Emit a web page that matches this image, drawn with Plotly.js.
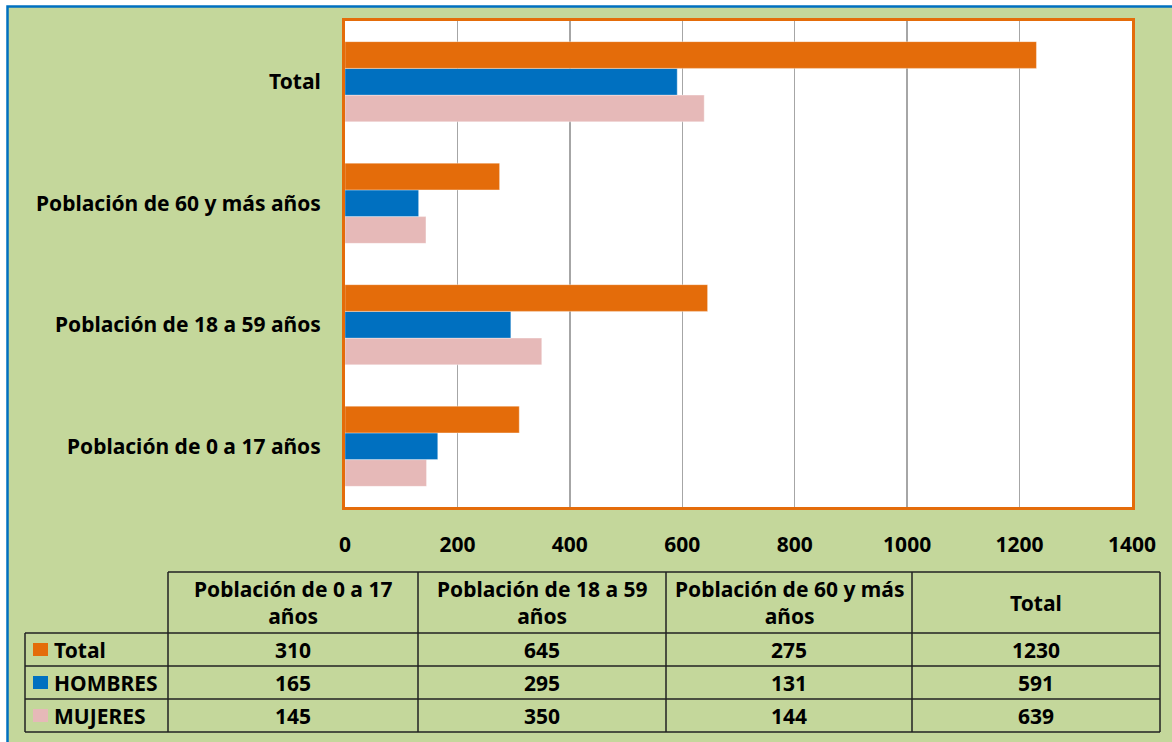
<!DOCTYPE html>
<html>
<head>
<meta charset="utf-8">
<script src="https://cdn.plot.ly/plotly-3.0.1.min.js"></script>
<style>html,body{margin:0;padding:0;background:#fff;}#chart{width:1172px;height:742px;}</style>
</head>
<body>
<div id="chart"></div>
<script>
// ---- data ----
const categories = ['Población de 0 a 17 años', 'Población de 18 a 59 años', 'Población de 60 y más años', 'Total'];
const headerLabels = ['Población de 0 a 17<br>años', 'Población de 18 a 59<br>años', 'Población de 60 y más<br>años', 'Total'];
const seriesNames = ['Total', 'HOMBRES', 'MUJERES'];
const totalVals = [310, 645, 275, 1230];
const hombresVals = [165, 295, 131, 591];
const mujeresVals = [145, 350, 144, 639];
const xTickVals = [0, 200, 400, 600, 800, 1000, 1200, 1400];

// ---- styling ----
const colors = {Total: '#E46C0A', HOMBRES: '#0070C0', MUJERES: '#E6B9B8'};
const GREEN = '#C4D79B';
const FONT = 'Noto Sans, Open Sans, Liberation Sans, sans-serif';
const FS = 21;
const W = 1172, H = 742;
const M = {l: 345, r: 40, t: 21, b: 235};
const PW = W - M.l - M.r, PH = H - M.t - M.b;
const px = x => (x - M.l) / PW;
const py = y => 1 - (y - M.t) / PH;

const valuesBySeries = {Total: totalVals, HOMBRES: hombresVals, MUJERES: mujeresVals};

// bars: first trace sits at the bottom of each group
const traces = ['MUJERES', 'HOMBRES', 'Total'].map(name => ({
  type: 'bar',
  orientation: 'h',
  name: name,
  y: categories,
  x: valuesBySeries[name],
  marker: {color: colors[name], line: {color: 'rgba(255,255,255,0.35)', width: 1}},
  hoverinfo: 'x+y+name'
}));

// ---- table geometry (pixels) ----
const colEdges = [168, 418, 666, 912, 1160];
const labelLeft = 25;
const rowEdges = [572, 633, 666, 699, 732];

const shapes = [];
const annotations = [];

// background card with blue frame
shapes.push({type: 'rect', xref: 'paper', yref: 'paper', x0: px(7.5), x1: px(1185), y0: py(6.5), y1: py(760),
  fillcolor: GREEN, line: {color: '#0070C0', width: 2.5}, layer: 'below'});
// white plot area
shapes.push({type: 'rect', xref: 'paper', yref: 'paper', x0: 0, x1: 1, y0: 0, y1: 1,
  fillcolor: '#FFFFFF', line: {width: 0}, layer: 'below'});

const lineStyle = {color: '#222222', width: 1.5};
// horizontal lines
shapes.push({type: 'line', xref: 'paper', yref: 'paper', x0: px(colEdges[0]), x1: px(colEdges[4]), y0: py(rowEdges[0]), y1: py(rowEdges[0]), line: lineStyle});
for (let i = 1; i < rowEdges.length; i++) {
  shapes.push({type: 'line', xref: 'paper', yref: 'paper', x0: px(labelLeft), x1: px(colEdges[4]), y0: py(rowEdges[i]), y1: py(rowEdges[i]), line: lineStyle});
}
// vertical lines
shapes.push({type: 'line', xref: 'paper', yref: 'paper', x0: px(labelLeft), x1: px(labelLeft), y0: py(rowEdges[1]), y1: py(rowEdges[4]), line: lineStyle});
colEdges.forEach(x => {
  shapes.push({type: 'line', xref: 'paper', yref: 'paper', x0: px(x), x1: px(x), y0: py(rowEdges[0]), y1: py(rowEdges[4]), line: lineStyle});
});

const tFont = {family: FONT, size: FS, color: '#000', weight: 'bold'};
// header
headerLabels.forEach((h, i) => {
  annotations.push({xref: 'paper', yref: 'paper', x: px((colEdges[i] + colEdges[i + 1]) / 2), y: py((rowEdges[0] + rowEdges[1]) / 2),
    text: h, showarrow: false, font: tFont, xanchor: 'center', yanchor: 'middle', align: 'center'});
});
// rows
seriesNames.forEach((name, r) => {
  const yc = (rowEdges[r + 1] + rowEdges[r + 2]) / 2;
  shapes.push({type: 'rect', xref: 'paper', yref: 'paper', x0: px(33), x1: px(48), y0: py(yc - 6.5), y1: py(yc + 6.5),
    fillcolor: colors[name], line: {width: 0}});
  annotations.push({xref: 'paper', yref: 'paper', x: px(52), y: py(yc), text: name, showarrow: false, font: tFont,
    xanchor: 'left', yanchor: 'middle'});
  valuesBySeries[name].forEach((v, c) => {
    annotations.push({xref: 'paper', yref: 'paper', x: px((colEdges[c] + colEdges[c + 1]) / 2), y: py(yc), text: String(v),
      showarrow: false, font: tFont, xanchor: 'center', yanchor: 'middle'});
  });
});

const layout = {
  width: W, height: H,
  margin: M,
  paper_bgcolor: '#FFFFFF',
  plot_bgcolor: 'rgba(0,0,0,0)',
  barmode: 'group',
  bargap: 0.34,
  bargroupgap: 0,
  showlegend: false,
  font: {family: FONT},
  xaxis: {
    range: [0, 1400], tickvals: xTickVals, ticktext: xTickVals.map(String),
    showgrid: true, gridcolor: '#A6A6A6', gridwidth: 1.5, zeroline: false,
    showline: true, mirror: true, linecolor: '#E46C0A', linewidth: 3,
    ticks: '', ticklabelstandoff: 17,
    tickfont: {family: FONT, size: FS, color: '#000', weight: 'bold'},
    fixedrange: true
  },
  yaxis: {
    type: 'category', categoryorder: 'array', categoryarray: categories,
    showgrid: false, zeroline: false,
    showline: true, mirror: true, linecolor: '#E46C0A', linewidth: 3,
    ticks: '', ticklabelstandoff: 17,
    tickfont: {family: FONT, size: FS, color: '#000', weight: 'bold'},
    fixedrange: true
  },
  shapes: shapes,
  annotations: annotations
};

Plotly.newPlot('chart', traces, layout, {displayModeBar: false, staticPlot: true});
</script>
</body>
</html>
